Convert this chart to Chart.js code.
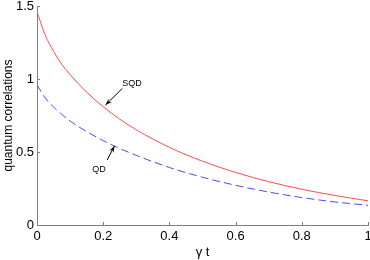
<!DOCTYPE html>
<html>
<head>
<meta charset="utf-8">
<script src="https://cdn.jsdelivr.net/npm/chart.js@4.4.1/dist/chart.umd.min.js"></script>
<style>
  html, body { margin: 0; padding: 0; background: #fff; }
  #wrap { width: 370px; height: 260px; position: relative; }
</style>
</head>
<body>
<div id="wrap"><canvas id="qc"></canvas></div>
<script>
// gamma t samples
const tValues = [0, 0.025, 0.05, 0.075, 0.1, 0.15, 0.2, 0.25, 0.3, 0.4, 0.5, 0.6, 0.7, 0.8, 0.9, 1.0];
const sqdValues = [1.46, 1.30, 1.19, 1.10, 1.03, 0.91, 0.81, 0.725, 0.652, 0.532, 0.437, 0.36, 0.297, 0.245, 0.202, 0.166];
const qdValues = [0.96, 0.87, 0.808, 0.757, 0.712, 0.64, 0.578, 0.524, 0.477, 0.394, 0.327, 0.272, 0.226, 0.188, 0.158, 0.135];

const xTicks = [0, 0.2, 0.4, 0.6, 0.8, 1];
const yTicks = [0, 0.5, 1, 1.5];

// annotations: label, text position, arrow tail, arrow head (data units)
const notes = [
  { label: "SQD", text: [0.287, 0.966], from: [0.258, 0.936], to: [0.207, 0.822] },
  { label: "QD", text: [0.187, 0.377], from: [0.212, 0.445], to: [0.234, 0.541] },
];

const FONT = "'Liberation Sans', Arial, sans-serif";
const AXIS_COLOR = "#808080";

function toPoints(xs, ys) {
  return xs.map((x, i) => ({ x: x, y: ys[i] }));
}

// small inward tick marks + arrow annotations
const extrasPlugin = {
  id: "extras",
  afterDraw(chart) {
    const ctx = chart.ctx;
    const xs = chart.scales.x;
    const ys = chart.scales.y;

    ctx.save();
    ctx.strokeStyle = AXIS_COLOR;
    ctx.lineWidth = 1;
    ctx.beginPath();
    xTicks.forEach((v) => {
      if (v === 0) return;
      const px = Math.round(xs.getPixelForValue(v)) + 0.5;
      ctx.moveTo(px, ys.bottom);
      ctx.lineTo(px, ys.bottom - 3);
    });
    yTicks.forEach((v) => {
      if (v === 0) return;
      const py = Math.round(ys.getPixelForValue(v)) + 0.5;
      ctx.moveTo(xs.left, py);
      ctx.lineTo(xs.left + 3, py);
    });
    ctx.stroke();

    ctx.fillStyle = "#000";
    ctx.strokeStyle = "#000";
    ctx.font = "9px " + FONT;
    ctx.textAlign = "center";
    ctx.textBaseline = "middle";
    notes.forEach((n) => {
      ctx.fillText(n.label, xs.getPixelForValue(n.text[0]), ys.getPixelForValue(n.text[1]));
      const x1 = xs.getPixelForValue(n.from[0]);
      const y1 = ys.getPixelForValue(n.from[1]);
      const x2 = xs.getPixelForValue(n.to[0]);
      const y2 = ys.getPixelForValue(n.to[1]);
      ctx.beginPath();
      ctx.moveTo(x1, y1);
      ctx.lineTo(x2, y2);
      ctx.stroke();
      const ang = Math.atan2(y2 - y1, x2 - x1);
      const len = 7, w = 0.35;
      ctx.beginPath();
      ctx.moveTo(x2, y2);
      ctx.lineTo(x2 - len * Math.cos(ang - w), y2 - len * Math.sin(ang - w));
      ctx.lineTo(x2 - len * 0.6 * Math.cos(ang), y2 - len * 0.6 * Math.sin(ang));
      ctx.lineTo(x2 - len * Math.cos(ang + w), y2 - len * Math.sin(ang + w));
      ctx.closePath();
      ctx.fill();
    });
    ctx.restore();
  },
};

const ctx = document.getElementById("qc").getContext("2d");
new Chart(ctx, {
  type: "line",
  data: {
    datasets: [
      {
        label: "SQD",
        data: toPoints(tValues, sqdValues),
        borderColor: "#ff4a4a",
        borderWidth: 1,
        pointRadius: 0,
        cubicInterpolationMode: "monotone",
        fill: false,
      },
      {
        label: "QD",
        data: toPoints(tValues, qdValues),
        borderColor: "#4a4aff",
        borderWidth: 1,
        borderDash: [8, 4],
        pointRadius: 0,
        cubicInterpolationMode: "monotone",
        fill: false,
      },
    ],
  },
  options: {
    responsive: true,
    maintainAspectRatio: false,
    animation: false,
    events: [],
    layout: { padding: { top: 6, right: 2, left: 0, bottom: 0 } },
    plugins: {
      legend: { display: false },
      tooltip: { enabled: false },
    },
    scales: {
      x: {
        type: "linear",
        min: 0,
        max: 1,
        afterBuildTicks: (scale) => {
          scale.ticks = xTicks.map((v) => ({ value: v }));
        },
        afterFit: (scale) => {
          scale.height = 35;
          scale.paddingLeft = 0;
          scale.paddingRight = 0;
        },
        grid: { display: false, drawTicks: false },
        border: { display: true, color: AXIS_COLOR, width: 1 },
        ticks: {
          color: "#000",
          padding: 4,
          maxRotation: 0,
          font: { family: FONT, size: 13 },
          callback: (v) => String(v),
        },
        title: {
          display: true,
          text: "γ t",
          color: "#000",
          padding: { top: 0, bottom: 0 },
          font: { family: FONT, size: 13 },
        },
      },
      y: {
        type: "linear",
        min: 0,
        max: 1.5,
        afterBuildTicks: (scale) => {
          scale.ticks = yTicks.map((v) => ({ value: v }));
        },
        afterFit: (scale) => {
          scale.width = 37;
          scale.paddingTop = 0;
          scale.paddingBottom = 0;
        },
        grid: { display: false, drawTicks: false },
        border: { display: true, color: AXIS_COLOR, width: 1 },
        ticks: {
          color: "#000",
          padding: 3,
          font: { family: FONT, size: 13 },
          callback: (v) => String(v),
        },
        title: {
          display: true,
          text: "quantum correlations",
          color: "#000",
          padding: { top: 1, bottom: 0 },
          font: { family: FONT, size: 12 },
        },
      },
    },
  },
  plugins: [extrasPlugin],
});
</script>
</body>
</html>
